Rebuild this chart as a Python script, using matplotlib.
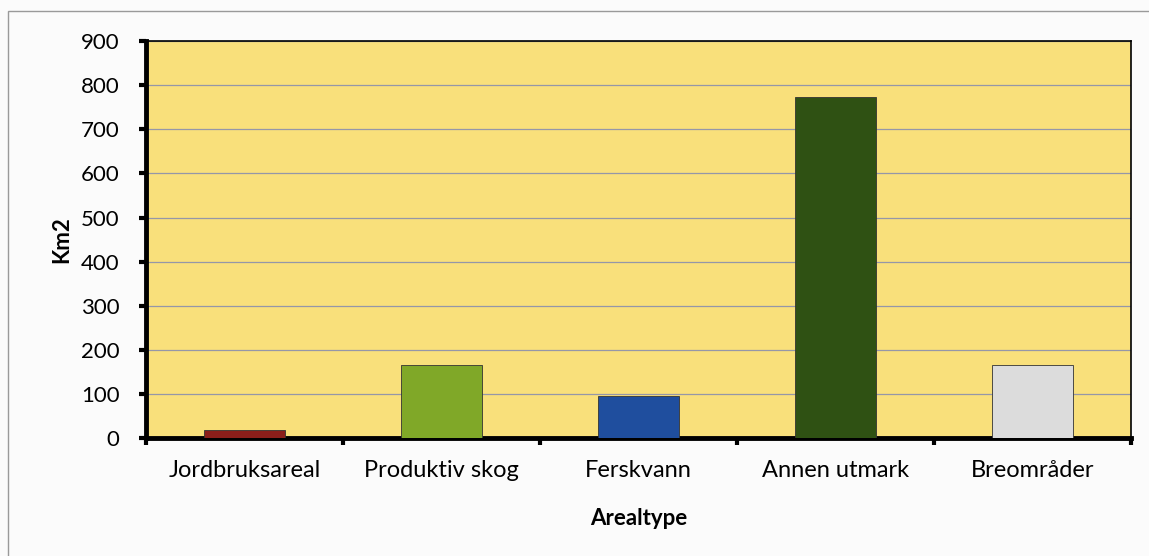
import numpy as np
import matplotlib.pyplot as plt
from matplotlib.patches import Rectangle

# data
kategorier = ["Jordbruksareal", "Produktiv skog", "Ferskvann", "Annen utmark", "Breområder"]
areal_km2 = [18, 165, 95, 773, 165]
farger = ["#8B1E1A", "#80A828", "#1F4E9E", "#2F5113", "#DCDCDC"]
y_ticks = [0, 100, 200, 300, 400, 500, 600, 700, 800, 900]

plt.rcParams['font.family'] = ['Lato', 'DejaVu Sans']

fig = plt.figure(figsize=(11.49, 5.56), dpi=100)
fig.patch.set_facecolor("#FBFBFB")

# ramme rundt hele diagrammet
fig.patches.append(Rectangle((0.007, -0.01), 1.0, 0.99, transform=fig.transFigure,
                             fill=False, edgecolor="#9A9A9A", linewidth=1.0))

ax = fig.add_axes([0.127, 0.212, 0.857, 0.714])
ax.set_facecolor("#F9E07B")

x = np.arange(len(kategorier))
ax.bar(x, areal_km2, width=0.41, color=farger, edgecolor="#333333", linewidth=0.6, zorder=3)

ax.set_xlim(-0.5, len(kategorier) - 0.5)
ax.set_ylim(0, 900)
ax.set_yticks(y_ticks)
ax.tick_params(axis='y', labelsize=16, length=5, width=3, direction='out', pad=14)

# kategorietiketter i midten, tikkmerker mellom kategoriene
ax.set_xticks(x)
ax.set_xticklabels(kategorier, fontsize=17)
ax.tick_params(axis='x', length=0, pad=16)
ax.set_xticks(np.arange(-0.5, len(kategorier)), minor=True)
ax.tick_params(axis='x', which='minor', length=5, width=3, direction='out')

ax.grid(axis='y', color="#9597A8", linewidth=0.9, zorder=1)
ax.set_axisbelow(True)

ax.spines['left'].set_linewidth(3.5)
ax.spines['bottom'].set_linewidth(3.5)
ax.spines['top'].set_linewidth(1.2)
ax.spines['right'].set_linewidth(1.2)

ax.set_ylabel("Km2", fontsize=16, fontweight='bold', labelpad=6)
ax.set_xlabel("Arealtype", fontsize=16, fontweight='bold', labelpad=19)

plt.savefig("out.png", dpi=100, facecolor=fig.get_facecolor())
